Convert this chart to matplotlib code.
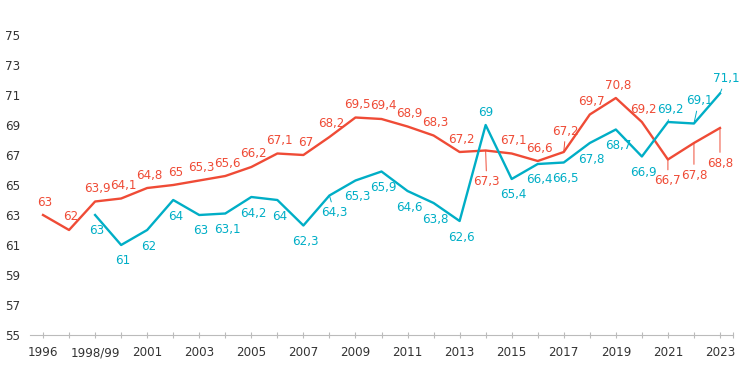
import numpy as np
import matplotlib
matplotlib.use('Agg')
import matplotlib.pyplot as plt

# categories (x axis)
years = ['1996', '1997', '1998/99'] + [str(y) for y in range(2000, 2024)]

# red series, from 1996
red_vals = [63, 62, 63.9, 64.1, 64.8, 65, 65.3, 65.6, 66.2, 67.1, 67, 68.2, 69.5,
            69.4, 68.9, 68.3, 67.2, 67.3, 67.1, 66.6, 67.2, 69.7, 70.8, 69.2, 66.7,
            67.8, 68.8]
# blue series, from 1998/99
blue_vals = [63, 61, 62, 64, 63, 63.1, 64.2, 64, 62.3, 64.3, 65.3, 65.9, 64.6, 63.8,
             62.6, 69, 65.4, 66.4, 66.5, 67.8, 68.7, 66.9, 69.2, 69.1, 71.1]
blue_start = 2

RED = '#EF4B36'
BLUE = '#00AEC6'

# label offsets in pixels (dx, dy), screen direction (dy>0 = up)
red_off = {i: (2, 13) for i in range(len(red_vals))}
red_off.update({17: (1, -31), 20: (2, 21), 24: (0, -21), 25: (0, -32), 26: (0, -35)})
red_lead = {17, 20, 24, 25, 26}

blue_off = {i: (2, -16) for i in range(len(blue_vals))}
blue_off.update({9: (5, -17), 15: (0, 12), 22: (3, 13), 23: (5, 23), 24: (6, 15)})
blue_lead = {9, 22, 23, 24}


def fmt(v):
    s = ('%.1f' % v).rstrip('0').rstrip('.')
    return s.replace('.', ',')


fig = plt.figure(figsize=(7.46, 3.92), dpi=100)
ax = fig.add_axes([30 / 746, 57 / 392, 703 / 746, 315 / 392])

x = np.arange(len(years))
xr = x
xb = x[blue_start:]
ax.plot(xr, red_vals, color=RED, lw=1.7, zorder=3)
ax.plot(xb, blue_vals, color=BLUE, lw=1.7, zorder=3)


def label(xi, v, off, color, lead):
    kw = {}
    if lead:
        kw['arrowprops'] = dict(arrowstyle='-', color=color, lw=0.7,
                                shrinkA=1, shrinkB=0)
    ax.annotate(fmt(v), (xi, v), xytext=off, textcoords='offset pixels',
                ha='center', va='center', color=color, fontsize=8.6, **kw)


for i, v in enumerate(red_vals):
    label(xr[i], v, red_off[i], RED, i in red_lead)
for i, v in enumerate(blue_vals):
    label(xb[i], v, blue_off[i], BLUE, i in blue_lead)

ax.set_xlim(-0.5, 26.5)
ax.set_ylim(55, 76)
ax.set_yticks(np.arange(55, 76, 2))
ax.set_xticks(list(x) + [26.5])
ax.set_xticklabels([y if i % 2 == 0 else '' for i, y in enumerate(years)] + [''])

for s in ['top', 'right', 'left']:
    ax.spines[s].set_visible(False)
ax.spines['bottom'].set_color('#BBBBBB')
ax.tick_params(axis='x', direction='inout', length=5, color='#BBBBBB',
               labelsize=8.6, labelcolor='#333333', pad=5.5)
ax.tick_params(axis='y', length=0, labelsize=8.6, labelcolor='#333333', pad=7)

fig.savefig('out.png', dpi=100)
